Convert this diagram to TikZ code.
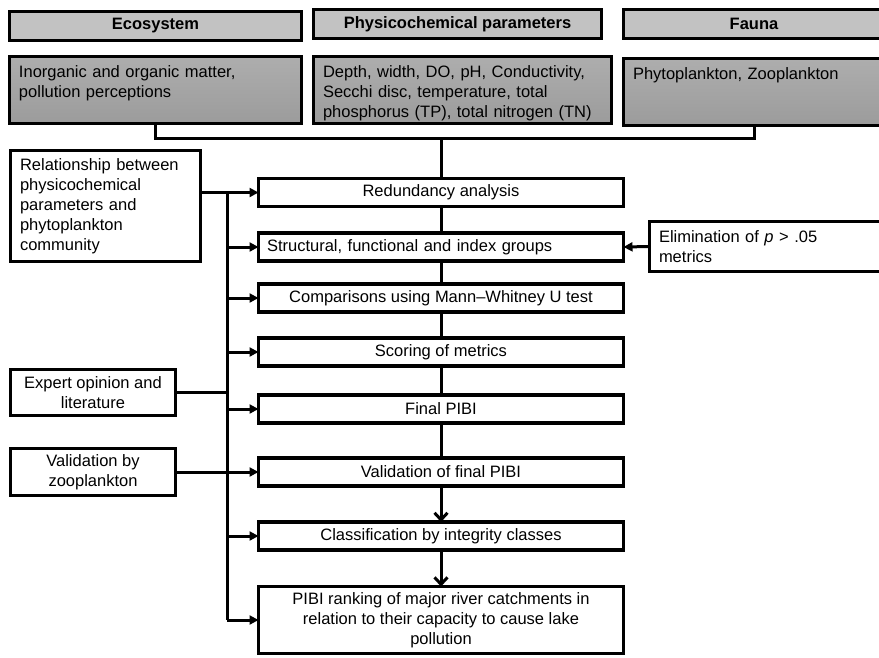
\documentclass[tikz,border=0pt]{standalone}
\usepackage{fontspec}
\setmainfont{Liberation Sans}
\usepackage{xcolor}
\usepackage{tikz}
\usetikzlibrary{arrows.meta, positioning, calc}
\definecolor{hdrgray}{gray}{0.76}
\definecolor{boxtop}{gray}{0.68}
\definecolor{boxbot}{gray}{0.61}

\begin{document}
\begin{tikzpicture}[
    x=1pt, y=-1pt,
    every node/.style={font=\fontsize{16.5}{20}\selectfont, outer sep=0pt},
    hdr/.style={rectangle, draw, line width=3.2pt, fill=hdrgray,
                minimum height=29pt, font=\fontsize{16.5}{20}\selectfont\bfseries},
    cbox/.style={rectangle, draw, line width=3.2pt,
                 top color=boxtop, bottom color=boxbot,
                 align=left, inner xsep=9.5pt, inner ysep=4pt,
                 text height=16.5pt, text depth=42.5pt},
    box/.style={rectangle, draw, line width=3.2pt, fill=white, align=center,
                minimum width=365pt, minimum height=28pt},
    side/.style={rectangle, draw, line width=3.2pt, fill=white, inner xsep=9.5pt},
    conn/.style={line width=3pt},
    arr/.style={-{Triangle[length=9pt,width=9pt]}, line width=3pt},
    darr/.style={-{Straight Barb[length=7pt,width=13pt]}, line width=3pt}
]
\useasboundingbox (0,0) rectangle (879,657);
\clip (0,0) rectangle (879,657);

\node[hdr, minimum width=292pt] (heco)   at (155.5,26) {Ecosystem};
\node[hdr, minimum width=288pt] (hphys)  at (457.5,24) {Physicochemical parameters};
\node[hdr, minimum width=261pt] (hfauna) at (754,24)   {Fauna};

\node[cbox, text width=273pt] (eco) at (155.5,90)
    {Inorganic and organic matter,\\pollution perceptions};
\node[cbox, text width=279pt] (phys) at (462.5,90)
    {\makebox[279pt][s]{Depth, width, DO, pH, Conductivity,}\\
     \makebox[279pt][s]{Secchi disc, temperature, total}\\
     \makebox[279pt][s]{phosphorus (TP), total nitrogen (TN)}};
\node[cbox, text width=242pt] (fauna) at (754,92) {Phytoplankton, Zooplankton};

\node[box] (redund)  at (441,192.5) {Redundancy analysis};
\node[box, align=left, inner xsep=8.5pt, text width=348pt] (struct) at (441,247)
    {Structural, functional and index groups};
\node[box] (compar)  at (441,298) {Comparisons using Mann--Whitney U test};
\node[box] (scoring) at (441,352) {Scoring of metrics};
\node[box] (final)   at (441,409) {Final PIBI};
\node[box] (valid)   at (441,472) {Validation of final PIBI};
\node[box] (classif) at (441,536) {Classification by integrity classes};
\node[box, minimum height=67pt] (rank) at (441,620)
    {PIBI ranking of major river catchments in\\relation to their capacity to cause lake\\pollution};

\node[side, align=left, text width=171pt, minimum height=111pt] (rel) at (105.5,206)
    {Relationship between\\physicochemical\\parameters and\\phytoplankton\\community};
\node[side, align=center, minimum width=165pt, minimum height=46pt] (expert) at (93,392.5)
    {Expert opinion and\\literature};
\node[side, align=center, minimum width=165pt, minimum height=47pt] (zoo) at (93,472)
    {Validation by\\zooplankton};
\node[side, align=left, text width=223.5pt, minimum height=50pt] (elim) at (770.75,246.5)
    {Elimination of \textit{p} > .05\\metrics};

\coordinate (join) at (redund.north |- 0,138);
\coordinate (tx) at (227,0);

\draw[conn] (eco.south) |- (join) -| (fauna.south);
\draw[conn] (join) -- (redund.north);

\draw[conn] (redund) -- (struct);
\draw[conn] (struct) -- (compar);
\draw[conn] (compar) -- (scoring);
\draw[conn] (scoring) -- (final);
\draw[conn] (final) -- (valid);
\draw[darr] (valid) -- (classif);
\draw[darr] (classif) -- (rank);

\draw[conn] (tx |- redund.west) -- (tx |- rank.west);
\draw[arr] (rel.east |- redund.west) -- (redund.west);
\draw[arr] (tx |- struct.west) -- (struct.west);
\draw[arr] (tx |- compar.west) -- (compar.west);
\draw[arr] (tx |- scoring.west) -- (scoring.west);
\draw[arr] (tx |- final.west) -- (final.west);
\draw[arr] (tx |- classif.west) -- (classif.west);
\draw[arr] (tx |- rank.west) -- (rank.west);
\draw[conn] (expert.east) -- (tx |- expert.east);
\draw[arr] (zoo.east |- valid.west) -- (valid.west);
\draw[arr] (elim.west) -- (struct.east);
\end{tikzpicture}
\end{document}
